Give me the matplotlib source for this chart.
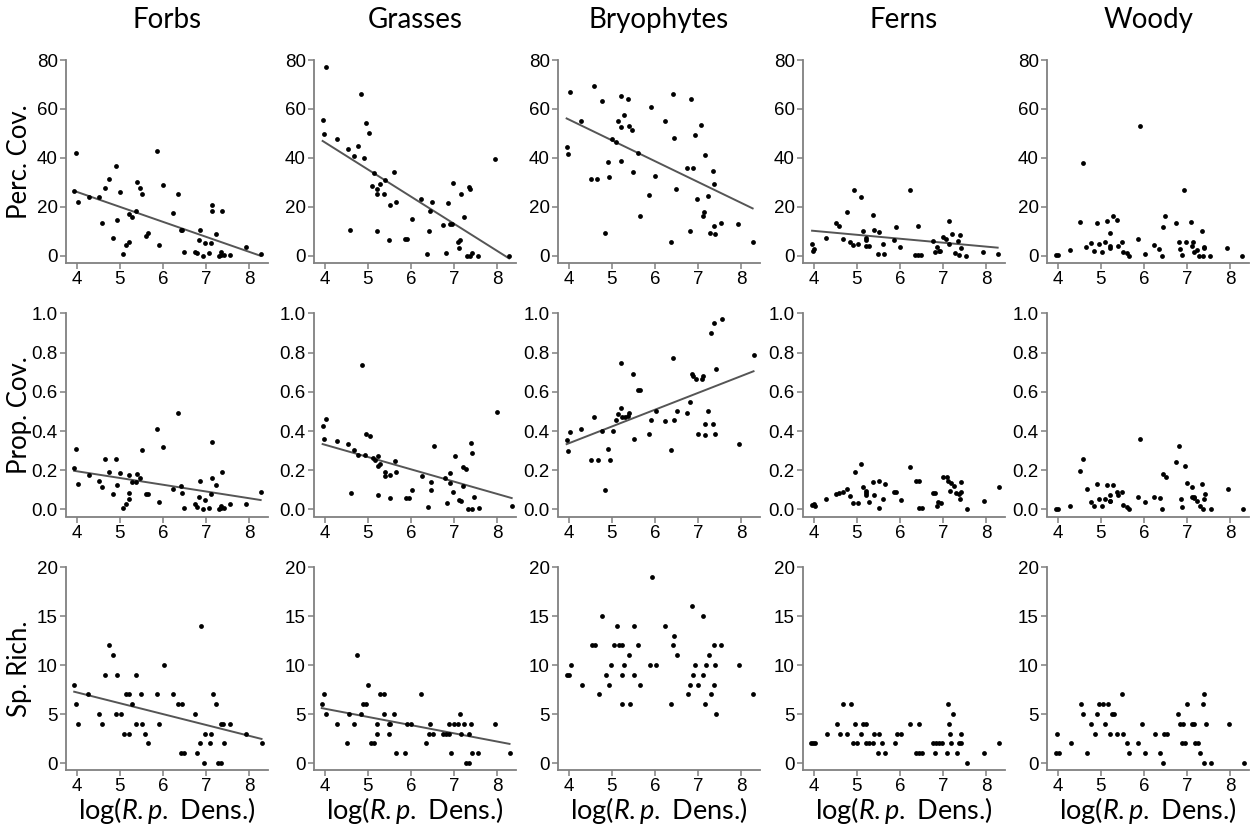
import matplotlib
matplotlib.use("Agg")
import matplotlib.pyplot as plt
import numpy as np

groups = ["Forbs", "Grasses", "Bryophytes", "Ferns", "Woody"]
row_labels = ["Perc. Cov.", "Prop. Cov.", "Sp. Rich."]
x_ticks = [4, 5, 6, 7, 8]

# (log density, value) pairs, one list per panel
forbs_perc = [(3.98, 42.2), (3.94, 26.7), (4.02, 21.9), (4.29, 24.0), (4.52, 24.0), (4.58, 13.6),
              (4.66, 27.9), (4.75, 31.6), (4.85, 7.2), (4.90, 36.7), (4.94, 14.6), (5.01, 26.3),
              (5.08, 0.7), (5.14, 4.5), (5.20, 5.7), (5.20, 17.0), (5.27, 16.0), (5.37, 18.4),
              (5.39, 30.2), (5.47, 27.6), (5.50, 25.4), (5.61, 8.3), (5.64, 9.3), (5.85, 42.9),
              (5.90, 4.5), (5.99, 28.8), (6.22, 17.4), (6.34, 25.3), (6.41, 10.6), (6.43, 10.6),
              (6.49, 1.8), (6.74, 1.8), (6.78, 1.1), (6.86, 10.7), (6.84, 6.5), (6.93, 0.0),
              (6.98, 5.4), (7.07, 1.1), (7.10, 5.4), (7.14, 20.7), (7.14, 18.2), (7.22, 9.1),
              (7.29, 0.0), (7.33, 1.8), (7.35, 0.4), (7.37, 18.2), (7.40, 0.4), (7.54, 0.4),
              (7.93, 3.8), (8.26, 0.7)]
grasses_perc = [(4.02, 77.3), (3.95, 55.5), (3.99, 49.7), (4.29, 47.9), (4.53, 43.7), (4.67, 40.7),
                (4.76, 45.0), (4.59, 10.7), (4.85, 66.1), (4.91, 39.9), (4.95, 54.4), (5.02, 50.3),
                (5.10, 28.7), (5.14, 34.0), (5.21, 27.5), (5.21, 25.3), (5.27, 29.3), (5.21, 10.1),
                (5.37, 25.3), (5.40, 31.0), (5.49, 6.5), (5.51, 21.0), (5.61, 34.4), (5.64, 22.2),
                (5.85, 6.8), (5.90, 7.1), (6.01, 15.0), (6.22, 23.1), (6.36, 0.7), (6.41, 10.3),
                (6.44, 18.2), (6.49, 21.9), (6.75, 12.8), (6.80, 1.4), (6.85, 21.5), (6.89, 13.1),
                (6.95, 13.1), (6.98, 29.7), (7.08, 5.7), (7.11, 3.1), (7.14, 6.4), (7.15, 25.4),
                (7.23, 15.9), (7.29, 0.0), (7.34, 28.3), (7.37, 27.5), (7.36, 0.0), (7.40, 1.1),
                (7.54, 0.0), (7.94, 39.6), (8.27, 0.0)]
bryo_perc = [(4.02, 66.9), (3.95, 44.6), (3.98, 41.8), (4.28, 55.1), (4.52, 31.6), (4.58, 69.5),
             (4.66, 31.4), (4.76, 63.3), (4.85, 9.3), (4.90, 38.2), (4.94, 32.4), (5.01, 47.6),
             (5.09, 46.7), (5.14, 55.1), (5.20, 65.3), (5.20, 52.5), (5.20, 38.9), (5.27, 57.6),
             (5.37, 64.1), (5.39, 53.2), (5.47, 51.4), (5.49, 34.1), (5.60, 41.9), (5.64, 16.5),
             (5.85, 25.0), (5.90, 60.8), (6.00, 32.7), (6.22, 55.2), (6.36, 5.7), (6.41, 66.1),
             (6.43, 48.0), (6.49, 27.2), (6.74, 36.1), (6.80, 10.1), (6.84, 64.2), (6.87, 36.1),
             (6.93, 49.4), (6.98, 23.4), (7.07, 53.5), (7.11, 16.5), (7.14, 17.8), (7.15, 41.1),
             (7.22, 24.4), (7.28, 9.3), (7.34, 34.6), (7.36, 12.4), (7.37, 29.4), (7.39, 9.0),
             (7.53, 13.3), (7.93, 12.9), (8.26, 5.7)]
ferns_perc = [(3.96, 4.7), (4.00, 2.7), (3.98, 2.0), (4.28, 7.2), (4.52, 13.6), (4.58, 12.2),
              (4.67, 6.9), (4.76, 18.0), (4.85, 5.7), (4.90, 4.4), (4.94, 26.9), (5.02, 4.8),
              (5.10, 24.1), (5.14, 10.1), (5.21, 7.5), (5.21, 6.5), (5.21, 4.1), (5.27, 3.9),
              (5.37, 16.6), (5.39, 10.5), (5.49, 1.0), (5.50, 9.8), (5.60, 4.8), (5.63, 1.0),
              (5.85, 6.4), (5.91, 12.0), (6.00, 3.5), (6.22, 26.9), (6.35, 0.4), (6.42, 12.1),
              (6.42, 0.4), (6.49, 0.4), (6.76, 6.3), (6.80, 1.5), (6.85, 3.5), (6.89, 2.2),
              (6.93, 2.2), (6.99, 7.9), (7.07, 7.1), (7.13, 4.9), (7.14, 14.4), (7.21, 9.1),
              (7.27, 1.1), (7.34, 6.0), (7.36, 0.4), (7.38, 8.7), (7.40, 3.4), (7.53, 0.0),
              (7.93, 1.5), (8.26, 0.7)]
woody_perc = [(3.96, 0.5), (4.00, 0.3), (4.28, 2.4), (4.51, 13.7), (4.59, 38.1), (4.66, 3.8),
              (4.76, 5.2), (4.85, 2.2), (4.90, 13.5), (4.95, 4.8), (5.02, 1.6), (5.10, 5.7),
              (5.14, 14.3), (5.20, 9.3), (5.20, 4.2), (5.21, 3.4), (5.27, 16.2), (5.37, 14.7),
              (5.40, 4.1), (5.48, 5.9), (5.51, 1.6), (5.60, 1.1), (5.64, 0.1), (5.85, 6.9),
              (5.90, 53.1), (6.01, 1.0), (6.23, 4.5), (6.35, 2.7), (6.41, 0.0), (6.43, 11.8),
              (6.49, 16.5), (6.74, 13.3), (6.80, 5.7), (6.84, 2.7), (6.87, 0.5), (6.93, 26.9),
              (6.98, 5.7), (7.08, 13.7), (7.11, 4.2), (7.14, 5.7), (7.15, 1.6), (7.22, 2.6),
              (7.27, 0.0), (7.34, 10.2), (7.36, 0.0), (7.38, 3.4), (7.39, 3.7), (7.53, 0.0),
              (7.93, 3.3), (8.26, 0.0)]

forbs_prop = [(3.94, 0.209), (3.98, 0.306), (4.02, 0.129), (4.29, 0.177), (4.52, 0.143), (4.58, 0.112),
              (4.66, 0.259), (4.75, 0.189), (4.85, 0.080), (4.90, 0.259), (4.94, 0.124), (5.01, 0.184),
              (5.08, 0.005), (5.14, 0.029), (5.20, 0.051), (5.20, 0.085), (5.20, 0.177), (5.27, 0.138),
              (5.37, 0.139), (5.39, 0.180), (5.47, 0.163), (5.50, 0.301), (5.61, 0.077), (5.64, 0.077),
              (5.85, 0.410), (5.90, 0.039), (5.99, 0.320), (6.22, 0.105), (6.34, 0.490), (6.41, 0.122),
              (6.43, 0.085), (6.49, 0.009), (6.74, 0.026), (6.78, 0.014), (6.86, 0.145), (6.84, 0.061),
              (6.93, 0.000), (6.98, 0.048), (7.07, 0.005), (7.10, 0.077), (7.14, 0.342), (7.14, 0.160),
              (7.22, 0.126), (7.29, 0.000), (7.33, 0.017), (7.35, 0.005), (7.37, 0.189), (7.40, 0.009),
              (7.54, 0.026), (7.93, 0.027), (8.26, 0.088)]
grasses_prop = [(3.95, 0.424), (4.02, 0.462), (3.99, 0.361), (4.29, 0.348), (4.53, 0.332), (4.60, 0.083),
                (4.68, 0.302), (4.77, 0.279), (4.87, 0.736), (4.92, 0.278), (4.96, 0.383), (5.04, 0.373),
                (5.12, 0.262), (5.16, 0.252), (5.23, 0.274), (5.23, 0.223), (5.23, 0.075), (5.29, 0.232),
                (5.40, 0.189), (5.40, 0.169), (5.52, 0.174), (5.51, 0.056), (5.62, 0.249), (5.66, 0.189),
                (5.88, 0.058), (5.94, 0.058), (6.03, 0.100), (6.26, 0.172), (6.38, 0.010), (6.45, 0.100),
                (6.47, 0.138), (6.52, 0.322), (6.79, 0.160), (6.84, 0.032), (6.89, 0.186), (6.91, 0.135),
                (6.97, 0.087), (7.02, 0.271), (7.12, 0.049), (7.15, 0.044), (7.20, 0.215), (7.27, 0.208),
                (7.20, 0.118), (7.32, 0.002), (7.40, 0.002), (7.38, 0.341), (7.41, 0.288), (7.45, 0.063),
                (7.58, 0.005), (7.98, 0.499), (8.33, 0.017)]
bryo_prop = [(3.95, 0.352), (3.98, 0.297), (4.02, 0.393), (4.28, 0.410), (4.52, 0.253), (4.58, 0.470),
             (4.67, 0.250), (4.76, 0.402), (4.85, 0.099), (4.90, 0.308), (4.95, 0.253), (5.02, 0.402),
             (5.09, 0.455), (5.15, 0.487), (5.21, 0.518), (5.21, 0.749), (5.24, 0.470), (5.30, 0.472),
             (5.37, 0.475), (5.40, 0.492), (5.48, 0.689), (5.50, 0.362), (5.60, 0.609), (5.64, 0.609),
             (5.86, 0.386), (5.91, 0.458), (6.01, 0.503), (6.23, 0.450), (6.36, 0.301), (6.42, 0.773),
             (6.44, 0.458), (6.50, 0.503), (6.75, 0.492), (6.81, 0.550), (6.85, 0.689), (6.88, 0.680),
             (6.94, 0.667), (6.99, 0.386), (7.09, 0.667), (7.12, 0.680), (7.16, 0.381), (7.16, 0.436),
             (7.23, 0.503), (7.29, 0.903), (7.35, 0.436), (7.37, 0.954), (7.39, 0.386), (7.40, 0.718),
             (7.54, 0.974), (7.95, 0.332), (8.28, 0.786)]
ferns_prop = [(3.96, 0.022), (4.00, 0.027), (4.02, 0.017), (4.28, 0.054), (4.52, 0.078), (4.58, 0.082),
              (4.67, 0.087), (4.76, 0.102), (4.85, 0.068), (4.90, 0.034), (4.95, 0.192), (5.02, 0.031),
              (5.10, 0.231), (5.15, 0.114), (5.22, 0.094), (5.22, 0.082), (5.22, 0.073), (5.28, 0.037),
              (5.38, 0.138), (5.40, 0.073), (5.50, 0.009), (5.50, 0.145), (5.60, 0.053), (5.64, 0.129),
              (5.86, 0.088), (5.91, 0.088), (6.01, 0.048), (6.23, 0.216), (6.36, 0.145), (6.43, 0.145),
              (6.43, 0.007), (6.50, 0.005), (6.77, 0.085), (6.81, 0.085), (6.86, 0.020), (6.87, 0.039),
              (6.95, 0.034), (7.00, 0.167), (7.09, 0.167), (7.12, 0.143), (7.15, 0.095), (7.19, 0.133),
              (7.25, 0.122), (7.29, 0.085), (7.36, 0.077), (7.38, 0.051), (7.40, 0.138), (7.40, 0.088),
              (7.55, 0.000), (7.95, 0.044), (8.28, 0.112)]
woody_prop = [(3.96, 0.003), (4.00, 0.000), (4.28, 0.017), (4.51, 0.197), (4.59, 0.255), (4.67, 0.105),
              (4.76, 0.036), (4.85, 0.020), (4.91, 0.128), (4.95, 0.051), (5.02, 0.019), (5.10, 0.053),
              (5.15, 0.126), (5.21, 0.073), (5.21, 0.044), (5.22, 0.041), (5.27, 0.126), (5.37, 0.087),
              (5.40, 0.073), (5.48, 0.088), (5.51, 0.022), (5.60, 0.014), (5.64, 0.000), (5.86, 0.061),
              (5.91, 0.359), (6.02, 0.036), (6.24, 0.066), (6.36, 0.056), (6.42, 0.000), (6.44, 0.182),
              (6.50, 0.167), (6.75, 0.241), (6.81, 0.325), (6.85, 0.051), (6.88, 0.010), (6.94, 0.223),
              (6.99, 0.133), (7.10, 0.116), (7.12, 0.063), (7.15, 0.065), (7.16, 0.056), (7.23, 0.044),
              (7.29, 0.019), (7.35, 0.131), (7.37, 0.000), (7.39, 0.051), (7.40, 0.077), (7.54, 0.000),
              (7.95, 0.102), (8.28, 0.000)]

forbs_rich = [(3.94, 8), (3.98, 6), (4.02, 4), (4.27, 7), (4.51, 5), (4.59, 4), (4.66, 9), (4.75, 12),
              (4.85, 11), (4.90, 5), (4.94, 9), (5.02, 5), (5.10, 3), (5.13, 7), (5.20, 7), (5.21, 3),
              (5.27, 6), (5.37, 9), (5.38, 4), (5.48, 7), (5.50, 4), (5.59, 3), (5.64, 2), (5.85, 7),
              (5.90, 4), (6.01, 10), (6.23, 7), (6.35, 6), (6.44, 6), (6.41, 1), (6.49, 1), (6.74, 5),
              (6.79, 1), (6.85, 2), (6.87, 14), (6.94, 0), (6.98, 3), (7.08, 2), (7.10, 3), (7.16, 7),
              (7.22, 6), (7.27, 0), (7.34, 0), (7.34, 4), (7.39, 4), (7.40, 2), (7.54, 4), (7.93, 3),
              (8.28, 2)]
grasses_rich = [(3.93, 6), (3.98, 7), (4.02, 5), (4.28, 4), (4.51, 2), (4.57, 5), (4.67, 4), (4.75, 11),
                (4.85, 5), (4.89, 6), (4.95, 6), (5.01, 8), (5.08, 2), (5.14, 2), (5.20, 4), (5.21, 3),
                (5.27, 7), (5.38, 7), (5.37, 5), (5.48, 4), (5.48, 3), (5.51, 4), (5.60, 5), (5.64, 1),
                (5.85, 1), (5.90, 4), (6.00, 4), (6.23, 7), (6.35, 2), (6.43, 4), (6.41, 3), (6.50, 3),
                (6.74, 3), (6.81, 3), (6.87, 3), (6.87, 4), (6.93, 1), (7.00, 4), (7.08, 4), (7.14, 5),
                (7.15, 3), (7.23, 4), (7.28, 0), (7.35, 0), (7.33, 3), (7.39, 4), (7.42, 1), (7.54, 1),
                (7.94, 4), (8.28, 1)]
bryo_rich = [(3.96, 9), (4.00, 9), (4.05, 10), (4.30, 8), (4.53, 12), (4.60, 12), (4.69, 7), (4.77, 15),
             (4.87, 9), (4.92, 8), (4.97, 10), (5.05, 12), (5.11, 14), (5.17, 12), (5.23, 12), (5.23, 9),
             (5.23, 6), (5.29, 10), (5.39, 11), (5.41, 6), (5.50, 14), (5.51, 9), (5.61, 12), (5.65, 8),
             (5.93, 19), (5.87, 10), (6.01, 10), (6.24, 14), (6.36, 6), (6.44, 13), (6.42, 12), (6.50, 11),
             (6.77, 7), (6.85, 16), (6.81, 8), (6.87, 9), (6.93, 10), (7.00, 8), (7.10, 9), (7.12, 15),
             (7.16, 6), (7.17, 10), (7.25, 11), (7.29, 7), (7.36, 12), (7.37, 8), (7.39, 10), (7.40, 5),
             (7.53, 12), (7.94, 10), (8.27, 7)]
ferns_rich = [(3.94, 2), (3.98, 2), (4.02, 2), (4.30, 3), (4.53, 4), (4.60, 3), (4.68, 6), (4.76, 3),
              (4.86, 6), (4.91, 2), (4.96, 4), (5.01, 2), (5.10, 3), (5.15, 4), (5.21, 4), (5.20, 2),
              (5.28, 2), (5.38, 2), (5.40, 3), (5.48, 1), (5.50, 3), (5.59, 2), (5.65, 1), (5.87, 2),
              (5.93, 3), (6.01, 3), (6.24, 4), (6.37, 1), (6.44, 4), (6.44, 1), (6.51, 1), (6.76, 2),
              (6.81, 1), (6.83, 2), (6.90, 2), (6.97, 2), (7.09, 1), (7.12, 6), (7.14, 4), (7.16, 3),
              (7.23, 5), (7.18, 2), (7.31, 1), (7.37, 2), (7.40, 3), (7.42, 2), (7.55, 0), (7.95, 1),
              (8.29, 2)]
woody_rich = [(3.95, 1), (3.99, 3), (4.02, 1), (4.30, 2), (4.53, 6), (4.59, 5), (4.68, 1), (4.77, 4),
              (4.87, 3), (4.91, 5), (4.96, 6), (5.04, 6), (5.10, 4), (5.16, 6), (5.22, 3), (5.26, 5),
              (5.30, 5), (5.38, 3), (5.49, 7), (5.52, 3), (5.61, 2), (5.66, 1), (5.86, 2), (5.94, 4),
              (6.02, 1), (6.26, 3), (6.37, 1), (6.43, 0), (6.45, 3), (6.52, 3), (6.78, 5), (6.84, 4),
              (6.89, 4), (6.88, 2), (6.95, 2), (7.00, 6), (7.10, 4), (7.15, 4), (7.17, 2), (7.24, 2),
              (7.30, 1), (7.36, 6), (7.39, 7), (7.38, 0), (7.43, 4), (7.56, 0), (7.97, 4), (8.31, 0)]

# fitted lines: (intercept, slope), None = no line drawn
perc_fits = [(50.7, -6.13), (90.8, -11.1), (89.8, -8.52), (16.7, -1.61), None]
prop_fits = [(0.333, -0.0345), (0.582, -0.0629), (-0.006, 0.0859), None, None]
rich_fits = [(11.65, -1.11), (8.9, -0.839), None, None, None]

rows = [
    [forbs_perc, grasses_perc, bryo_perc, ferns_perc, woody_perc],
    [forbs_prop, grasses_prop, bryo_prop, ferns_prop, woody_prop],
    [forbs_rich, grasses_rich, bryo_rich, ferns_rich, woody_rich],
]
fits = [perc_fits, prop_fits, rich_fits]
y_ticks = [[0, 20, 40, 60, 80], [0.0, 0.2, 0.4, 0.6, 0.8, 1.0], [0, 5, 10, 15, 20]]
y_fmt = ["{:.0f}", "{:.1f}", "{:.0f}"]
y_lims = [(-2.86, 80), (-0.036, 1.0), (-0.71, 20)]

W, H = 1250, 830
col_left = [66, 314, 558, 803, 1047]
row_tops = [60, 313.5, 567]
ax_w, ax_h = 202, 203
axis_grey = "#808080"
label_font = "Lato"
tick_font = "Liberation Sans"

plt.rcParams["mathtext.fontset"] = "custom"
plt.rcParams["mathtext.rm"] = label_font
plt.rcParams["mathtext.it"] = label_font + ":italic"

fig = plt.figure(figsize=(W / 100, H / 100), dpi=100)

for r in range(3):
    top = row_tops[r]
    bot = top + ax_h
    for c in range(5):
        ax = fig.add_axes([col_left[c] / W, (H - bot) / H, ax_w / W, ax_h / H])
        pts = np.array(rows[r][c])
        ax.scatter(pts[:, 0], pts[:, 1], s=12, color="black", linewidths=0, zorder=3)
        fit = fits[r][c]
        if fit is not None:
            xs = np.array([pts[:, 0].min(), pts[:, 0].max()])
            ax.plot(xs, fit[0] + fit[1] * xs, color="#555555", lw=1.4, zorder=2)
        ax.set_xlim(3.75, 8.43)
        ax.set_ylim(*y_lims[r])
        ax.set_xticks(x_ticks)
        ax.set_xticklabels([str(t) for t in x_ticks], fontname=tick_font, fontsize=13.5)
        ax.set_yticks(y_ticks[r])
        ax.set_yticklabels([y_fmt[r].format(t) for t in y_ticks[r]], fontname=tick_font, fontsize=13.5)
        for side in ["top", "right"]:
            ax.spines[side].set_visible(False)
        for side in ["left", "bottom"]:
            ax.spines[side].set_color(axis_grey)
            ax.spines[side].set_linewidth(1.3)
        ax.tick_params(length=4, width=1.1, color=axis_grey, pad=2)
        if r == 0:
            fig.text((col_left[c] + ax_w / 2) / W, 1 - 20 / H, groups[c], ha="center", va="center",
                     fontname=label_font, fontsize=20)
        if r == 2:
            fig.text((col_left[c] + ax_w / 2) / W, 1 - 810 / H, r"log($\mathit{R.p.}$ Dens.)",
                     ha="center", va="center", fontname=label_font, fontsize=19.5)
    fig.text(20 / W, 1 - (top + bot) / 2 / H, row_labels[r], rotation=90, ha="center", va="center",
             fontname=label_font, fontsize=18.5)

fig.savefig("out.png", dpi=100)
